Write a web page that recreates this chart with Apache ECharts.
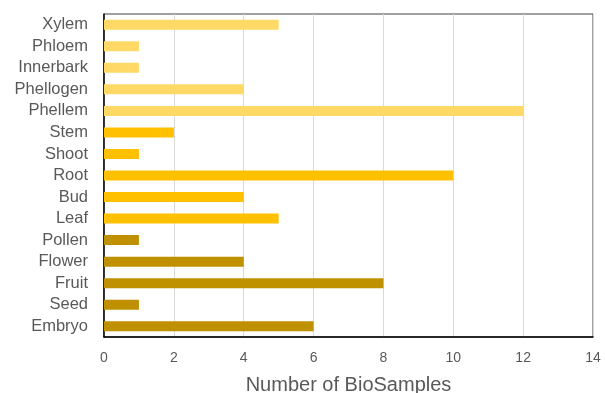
<!DOCTYPE html>
<html><head><meta charset="utf-8">
<script src="https://cdn.jsdelivr.net/npm/echarts@6/dist/echarts.min.js"></script>
<style>html,body{margin:0;padding:0;background:#fff}#c{width:605px;height:393px}</style>
</head><body><div id="c"></div>
<script>
const categories = ["Xylem","Phloem","Innerbark","Phellogen","Phellem","Stem","Shoot","Root","Bud","Leaf","Pollen","Flower","Fruit","Seed","Embryo"];
const values = [5,1,1,4,12,2,1,10,4,5,1,4,8,1,6];
const groups = [0,0,0,0,0,1,1,1,1,1,2,2,2,2,2];
const groupColors = ["#FFD966","#FFC000","#BF9000"];
const xTicks = [0,2,4,6,8,10,12,14];

const chart = echarts.init(document.getElementById('c'));
chart.setOption({
  animation:false,
  textStyle:{fontFamily:'Liberation Sans, Arial, sans-serif'},
  grid:{left:104,right:12,top:14,bottom:56,show:true,borderColor:'#404040',borderWidth:1,backgroundColor:'transparent',outerBoundsMode:'none',containLabel:false},
  xAxis:{type:'value',min:xTicks[0],max:xTicks[xTicks.length-1],interval:2,
    name:'Number of BioSamples',nameLocation:'middle',nameGap:38,
    nameTextStyle:{fontSize:20,color:'#595959'},
    axisLine:{show:true,lineStyle:{color:'#000',width:1.5}},
    axisTick:{show:false},
    axisLabel:{fontSize:14,color:'#595959',margin:14},
    splitLine:{show:true,lineStyle:{color:'#d9d9d9',width:1}}},
  yAxis:{type:'category',data:categories,inverse:true,
    axisLine:{show:true,lineStyle:{color:'#000',width:1.5}},
    axisTick:{show:false},
    axisLabel:{fontSize:16.5,color:'#595959',margin:16,interval:0},
    splitLine:{show:false}},
  series:[{type:'bar',barWidth:10,
    data:values.map((v,i)=>({value:v,itemStyle:{color:groupColors[groups[i]]}}))}]
});
</script></body></html>
